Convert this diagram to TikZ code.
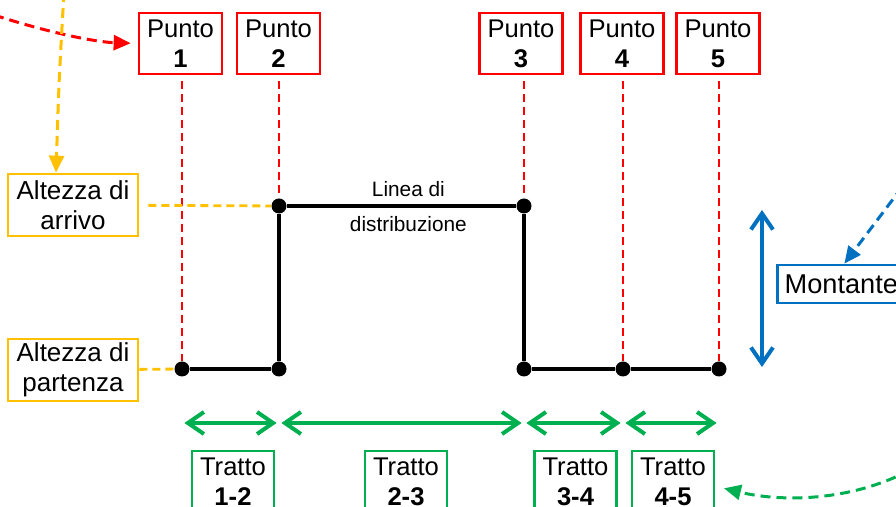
\documentclass[tikz,border=0pt]{standalone}
\usepackage{fontspec}
\setmainfont{Liberation Sans}
\usetikzlibrary{arrows.meta}
\definecolor{puntored}{HTML}{FF0000}
\definecolor{quotagold}{HTML}{FFC000}
\definecolor{trattogreen}{HTML}{00B050}
\definecolor{montblue}{HTML}{0070C0}

\begin{document}
\begin{tikzpicture}[x=0.5pt,y=-0.5pt,
  box/.style={draw=#1,line width=1.35pt,inner sep=0pt,align=center,
    font=\fontsize{12.8}{15}\selectfont,minimum width=41.5pt,minimum height=30.5pt},
  dot/.style={circle,fill=black,inner sep=0pt,minimum size=7.5pt},
  guide/.style={draw=#1,line width=1.4pt,dash pattern=on 4pt off 2.5pt},
  pointer/.style={draw=#1,line width=1.5pt,dash pattern=on 5pt off 3pt,
    -{Triangle[length=8.5pt,width=7.5pt]}},
  span/.style={draw=#1,line width=2pt,shorten <=1.2pt,shorten >=1.2pt,
    {Straight Barb[length=8pt,width=11pt]}-{Straight Barb[length=8pt,width=11pt]}}]
  \useasboundingbox (0,0) rectangle (896,507);
  \clip (0,0) rectangle (896,507);
  % points
  \foreach \n/\x in {1/180.5,2/278.5,3/521,4/622,5/718}
    \node[box=puntored] (p\n) at (\x,43.5) {Punto\\\textbf{\n}};
  \node[dot] (d1) at (182,369) {};
  \node[dot] (d2) at (279,369) {};
  \node[dot] (u2) at (279,206) {};
  \node[dot] (u3) at (524,206) {};
  \node[dot] (d3) at (524,369) {};
  \node[dot] (d4) at (623,369) {};
  \node[dot] (d5) at (719,369) {};
  \foreach \n/\e in {1/d1,2/u2,3/u3,4/d4,5/d5}
    \draw[guide=puntored,shorten <=3pt] (\e |- p\n.south) -- (\e);
  % pipe
  \draw[line width=2pt] (d1) -- (d2) -- (u2)
    -- node[pos=.53,above,inner sep=0pt,yshift=3.5pt,font=\fontsize{10.4}{12}\selectfont] {Linea di}
       node[pos=.53,below,inner sep=0pt,yshift=-4.3pt,font=\fontsize{10.4}{12}\selectfont] {distribuzione} (u3)
    -- (d3) -- (d4) -- (d5);
  % heights
  \node[box=quotagold,font=\fontsize{13}{15}\selectfont,minimum width=65pt,minimum height=31pt] (arr) at (73,205) {Altezza di\\arrivo};
  \node[box=quotagold,font=\fontsize{13}{15}\selectfont,minimum width=65pt,minimum height=31pt] (par) at (73,370) {Altezza di\\partenza};
  \draw[guide=quotagold,shorten <=4.5pt] (arr) -- (u2);
  \draw[guide=quotagold] (par) -- (d1);
  % sections
  \foreach \n/\x/\t in {12/233/1-2,23/406/2-3,34/575.5/3-4,45/673/4-5}
    \node[box=trattogreen,minimum width=41pt] (t\n) at (\x,481.5) {Tratto\\\textbf{\t}};
  \foreach \a/\b in {d1/d2,d2/d3,d3/d4,d4/d5}
    \draw[span=trattogreen] ([yshift=-27pt]\a.center) -- ([yshift=-27pt]\b.center);
  % riser
  \coordinate (mtop) at (762,210);
  \coordinate (mbot) at (762,367);
  \draw[span=montblue,shorten <=0pt,shorten >=0pt] (mtop) -- (mbot);
  \node[box=montblue,font=\fontsize{13.6}{15}\selectfont,anchor=west,minimum width=64pt,minimum height=19pt] (mon) at (776,284) {Montante};
  % pointers from outside
  \coordinate (rsrc) at (-6,15);
  \coordinate (ysrc) at (64,-8);
  \coordinate (bsrc) at (912,174);
  \coordinate (gsrc) at (910,470);
  \draw[pointer=puntored,shorten >=3.5pt] (rsrc) .. controls (50,33) and (95,42) .. (p1.west);
  \draw[pointer=quotagold] (ysrc) .. controls (59,80) .. ([xshift=-8.5pt]arr.north);
  \draw[pointer=montblue] (bsrc) -- ([xshift=1.5pt]mon.north);
  \draw[pointer=trattogreen] (gsrc) .. controls (850,502) and (780,502) .. ([shift={(4.3pt,-3.4pt)}]t45.east);
\end{tikzpicture}
\end{document}
